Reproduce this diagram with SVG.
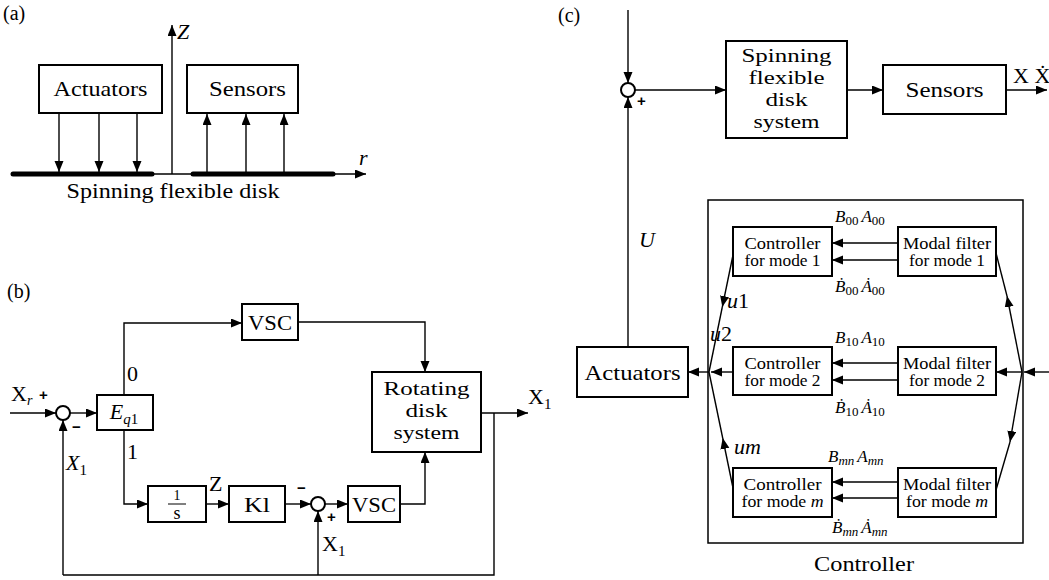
<svg xmlns="http://www.w3.org/2000/svg" width="1049" height="580" viewBox="0 0 1049 580" font-family="'Liberation Serif', 'DejaVu Serif', serif">
<style>
text{font-family:'Liberation Serif','DejaVu Serif',serif;fill:#000;}
.t{font-size:22px;}
.ml{font-size:19px;}
.s{font-size:16px;}
.m{font-style:italic;}
.c{text-anchor:middle;}
.p{font-family:'Liberation Sans','DejaVu Sans',sans-serif;font-size:15px;font-weight:bold;}
rect.b{fill:#fff;stroke:#000;stroke-width:2;}
.ln{fill:none;stroke:#000;stroke-width:1.4;}
.a{marker-end:url(#ah);}
circle.j{fill:#fff;stroke:#000;stroke-width:2;}
</style>
<defs>
<marker id="ah" markerUnits="userSpaceOnUse" markerWidth="12" markerHeight="10" refX="11" refY="4.5" orient="auto">
<path d="M0,0 L11,4.5 L0,9 Z" fill="#000"/>
</marker>
</defs>

<text font-size="20" x="3" y="20">(a)</text>
<text font-size="20" x="7" y="298">(b)</text>
<text font-size="20" x="558" y="22">(c)</text>

<!-- ===== Panel (a) ===== -->
<g id="connectors-a">
<line class="ln a" x1="172" y1="174" x2="172" y2="25"/>
<line class="ln a" x1="153" y1="174" x2="366" y2="174"/>
<line x1="13" y1="174" x2="152" y2="174" stroke="#000" stroke-width="5" stroke-linecap="round"/>
<line x1="193" y1="174" x2="333" y2="174" stroke="#000" stroke-width="5" stroke-linecap="round"/>
<line class="ln a" x1="59" y1="113" x2="59" y2="172"/>
<line class="ln a" x1="99" y1="113" x2="99" y2="172"/>
<line class="ln a" x1="137" y1="113" x2="137" y2="172"/>
<line class="ln a" x1="207" y1="172" x2="207" y2="114"/>
<line class="ln a" x1="246" y1="172" x2="246" y2="114"/>
<line class="ln a" x1="284" y1="172" x2="284" y2="114"/>
</g>
<text class="t m" x="177" y="39">Z</text>
<text class="t m" x="359" y="165">r</text>
<text class="t c" x="173" y="198" textLength="213" lengthAdjust="spacingAndGlyphs">Spinning flexible disk</text>
<g id="a-actuators"><rect class="b" x="39" y="65" width="123" height="48"/><text class="t c" x="100.5" y="96" textLength="94" lengthAdjust="spacingAndGlyphs">Actuators</text></g>
<g id="a-sensors"><rect class="b" x="187" y="65" width="111" height="48"/><text class="t c" x="247.5" y="96" textLength="77" lengthAdjust="spacingAndGlyphs">Sensors</text></g>

<!-- ===== Panel (b) ===== -->
<g id="connectors-b">
<line class="ln a" x1="10" y1="413" x2="56" y2="413"/>
<line class="ln a" x1="70" y1="413" x2="97" y2="413"/>
<polyline class="ln a" points="124,395 124,323 242,323"/>
<polyline class="ln a" points="298,322 425,322 425,372"/>
<line class="ln a" x1="481" y1="413" x2="528" y2="413"/>
<polyline class="ln" points="494,413 494,575 63,575"/>
<line class="ln a" x1="63" y1="575" x2="63" y2="420"/>
<polyline class="ln a" points="124,430 124,504 148,504"/>
<line class="ln a" x1="206" y1="504" x2="229" y2="504"/>
<line class="ln a" x1="285" y1="504" x2="311" y2="504"/>
<line class="ln a" x1="325" y1="504" x2="348" y2="504"/>
<polyline class="ln a" points="400,504 425,504 425,452"/>
<line class="ln a" x1="318" y1="575" x2="318" y2="511"/>
</g>
<g id="b-sum1"><circle class="j" cx="63" cy="413" r="7"/></g>
<g id="b-sum2"><circle class="j" cx="318" cy="504" r="7"/></g>
<text class="t" x="11" y="401">X<tspan class="m" font-size="14" dy="4">r</tspan></text>
<text class="p" x="39" y="400">+</text>
<text class="p" x="72" y="432">−</text>
<text class="t m" x="66" y="470">X<tspan font-style="normal" font-size="15" dy="5">1</tspan></text>
<text class="t" x="127" y="381">0</text>
<text class="t" x="127" y="459">1</text>
<text class="t" x="209" y="491">Z</text>
<text class="p" x="297" y="493">−</text>
<text class="p" x="327" y="522">+</text>
<text class="t" x="528" y="404">X<tspan font-size="15" dy="5">1</tspan></text>
<text class="t" x="322" y="551">X<tspan font-size="15" dy="5">1</tspan></text>
<g id="b-eq1"><rect class="b" x="97" y="395" width="56" height="35"/><text class="t c m" x="124" y="419">E<tspan font-size="15" dy="5">q</tspan><tspan font-size="15" font-style="normal">1</tspan></text></g>
<g id="b-vsc1"><rect class="b" x="242" y="304" width="56" height="36"/><text class="t c" x="270" y="330" textLength="44" lengthAdjust="spacingAndGlyphs">VSC</text></g>
<g id="b-rotating"><rect class="b" x="372" y="372" width="109" height="80"/>
<text class="ml c" x="426.5" y="395" textLength="86" lengthAdjust="spacingAndGlyphs">Rotating</text>
<text class="ml c" x="426.5" y="417" textLength="42" lengthAdjust="spacingAndGlyphs">disk</text>
<text class="ml c" x="426.5" y="439" textLength="66" lengthAdjust="spacingAndGlyphs">system</text></g>
<g id="b-integrator"><rect class="b" x="148" y="486" width="58" height="36"/>
<text class="c" font-size="14" x="177" y="500">1</text>
<line x1="168" y1="504" x2="186" y2="504" stroke="#000" stroke-width="1"/>
<text class="c" font-size="18" x="177" y="519">s</text></g>
<g id="b-kl"><rect class="b" x="229" y="486" width="56" height="36"/><text class="t c" x="257" y="512" textLength="26" lengthAdjust="spacingAndGlyphs">Kl</text></g>
<g id="b-vsc2"><rect class="b" x="348" y="486" width="52" height="36"/><text class="t c" x="374" y="512" textLength="44" lengthAdjust="spacingAndGlyphs">VSC</text></g>

<!-- ===== Panel (c) ===== -->
<g id="connectors-c">
<line class="ln a" x1="628" y1="10" x2="628" y2="83"/>
<line class="ln a" x1="628" y1="347" x2="628" y2="97"/>
<line class="ln a" x1="635" y1="90" x2="726" y2="90"/>
<line class="ln a" x1="847" y1="90" x2="883" y2="90"/>
<line class="ln a" x1="1006" y1="90" x2="1047" y2="90"/>
<line class="ln a" x1="709" y1="372" x2="688" y2="372"/>
<line class="ln a" x1="733" y1="372" x2="711" y2="372"/>
<line class="ln a" x1="733" y1="255" x2="722.3" y2="307"/>
<line class="ln" x1="722.3" y1="307" x2="709" y2="372"/>
<line class="ln a" x1="733" y1="488" x2="722.7" y2="438"/>
<line class="ln" x1="722.7" y1="438" x2="709" y2="372"/>
<line class="ln a" x1="1049" y1="372" x2="1024" y2="372"/>
<line class="ln a" x1="1022" y1="372" x2="996" y2="372"/>
<line class="ln a" x1="1022" y1="372" x2="1007" y2="296"/>
<line class="ln" x1="1007" y1="296" x2="996" y2="253"/>
<line class="ln a" x1="1022" y1="372" x2="1010" y2="442"/>
<line class="ln" x1="1010" y1="442" x2="996" y2="490"/>
<line class="ln a" x1="898" y1="243" x2="832" y2="243"/>
<line class="ln a" x1="898" y1="260" x2="832" y2="260"/>
<line class="ln a" x1="898" y1="363" x2="832" y2="363"/>
<line class="ln a" x1="898" y1="380" x2="832" y2="380"/>
<line class="ln a" x1="898" y1="482" x2="832" y2="482"/>
<line class="ln a" x1="898" y1="498" x2="832" y2="498"/>
</g>
<g id="c-sum"><circle class="j" cx="628" cy="90" r="7"/></g>
<text class="p" x="637" y="106">+</text>
<text class="t m" x="639" y="247">U</text>
<text class="t" x="1013" y="83">X Ẋ</text>
<g id="c-spinning"><rect class="b" x="726" y="41" width="121" height="97"/>
<text class="ml c" x="786.5" y="62" textLength="90" lengthAdjust="spacingAndGlyphs">Spinning</text>
<text class="ml c" x="786.5" y="84" textLength="76" lengthAdjust="spacingAndGlyphs">flexible</text>
<text class="ml c" x="786.5" y="106" textLength="42" lengthAdjust="spacingAndGlyphs">disk</text>
<text class="ml c" x="786.5" y="128" textLength="66" lengthAdjust="spacingAndGlyphs">system</text></g>
<g id="c-sensors"><rect class="b" x="883" y="65" width="123" height="49"/><text class="t c" x="944.5" y="97" textLength="78" lengthAdjust="spacingAndGlyphs">Sensors</text></g>
<g id="c-actuators"><rect class="b" x="577" y="347" width="111" height="50"/><text class="t c" x="632.5" y="380" textLength="96" lengthAdjust="spacingAndGlyphs">Actuators</text></g>
<g id="c-controller"><rect x="708" y="200" width="315" height="343" fill="none" stroke="#000" stroke-width="1.5"/>
<text class="c" font-size="20" x="864" y="571" textLength="100" lengthAdjust="spacingAndGlyphs">Controller</text></g>
<g id="c-ctrl1"><rect class="b" x="733" y="227" width="99" height="49"/>
<text class="s c" x="782.5" y="249" textLength="76" lengthAdjust="spacingAndGlyphs">Controller</text><text class="s c" x="782.5" y="266" textLength="76" lengthAdjust="spacingAndGlyphs">for mode 1</text></g>
<g id="c-filt1"><rect class="b" x="898" y="227" width="98" height="49"/>
<text class="s c" x="947" y="249" textLength="88" lengthAdjust="spacingAndGlyphs">Modal filter</text><text class="s c" x="947" y="266" textLength="76" lengthAdjust="spacingAndGlyphs">for mode 1</text></g>
<g id="c-ctrl2"><rect class="b" x="733" y="347" width="99" height="48"/>
<text class="s c" x="782.5" y="369" textLength="76" lengthAdjust="spacingAndGlyphs">Controller</text><text class="s c" x="782.5" y="386" textLength="76" lengthAdjust="spacingAndGlyphs">for mode 2</text></g>
<g id="c-filt2"><rect class="b" x="898" y="347" width="98" height="48"/>
<text class="s c" x="947" y="369" textLength="88" lengthAdjust="spacingAndGlyphs">Modal filter</text><text class="s c" x="947" y="386" textLength="76" lengthAdjust="spacingAndGlyphs">for mode 2</text></g>
<g id="c-ctrlm"><rect class="b" x="733" y="468" width="99" height="49"/>
<text class="s c" x="782.5" y="490" textLength="78" lengthAdjust="spacingAndGlyphs">Controller</text><text class="s c" x="782.5" y="507" textLength="82" lengthAdjust="spacingAndGlyphs">for mode <tspan font-style="italic">m</tspan></text></g>
<g id="c-filtm"><rect class="b" x="898" y="468" width="98" height="49"/>
<text class="s c" x="947" y="490" textLength="88" lengthAdjust="spacingAndGlyphs">Modal filter</text><text class="s c" x="947" y="507" textLength="82" lengthAdjust="spacingAndGlyphs">for mode <tspan font-style="italic">m</tspan></text></g>
<text class="m" font-size="17" x="835" y="222">B<tspan font-style="normal" font-size="13" dy="3">00</tspan><tspan dy="-3" dx="3">A</tspan><tspan font-style="normal" font-size="13" dy="3">00</tspan></text>
<text class="m" font-size="17" x="835" y="292">Ḃ<tspan font-style="normal" font-size="13" dy="3">00</tspan><tspan dy="-3" dx="3">Ȧ</tspan><tspan font-style="normal" font-size="13" dy="3">00</tspan></text>
<text class="m" font-size="17" x="835" y="343">B<tspan font-style="normal" font-size="13" dy="3">10</tspan><tspan dy="-3" dx="3">A</tspan><tspan font-style="normal" font-size="13" dy="3">10</tspan></text>
<text class="m" font-size="17" x="835" y="413">Ḃ<tspan font-style="normal" font-size="13" dy="3">10</tspan><tspan dy="-3" dx="3">Ȧ</tspan><tspan font-style="normal" font-size="13" dy="3">10</tspan></text>
<text class="m" font-size="17" x="828" y="462">B<tspan font-size="13" dy="3">mn</tspan><tspan dy="-3" dx="3">A</tspan><tspan font-size="13" dy="3">mn</tspan></text>
<text class="m" font-size="17" x="832" y="533">Ḃ<tspan font-size="13" dy="3">mn</tspan><tspan dy="-3" dx="3">Ȧ</tspan><tspan font-size="13" dy="3">mn</tspan></text>
<text class="t m" x="727" y="308">u<tspan font-style="normal">1</tspan></text>
<text class="t m" x="710" y="341">u<tspan font-style="normal">2</tspan></text>
<text class="t m" x="734" y="454">um</text>
</svg>
